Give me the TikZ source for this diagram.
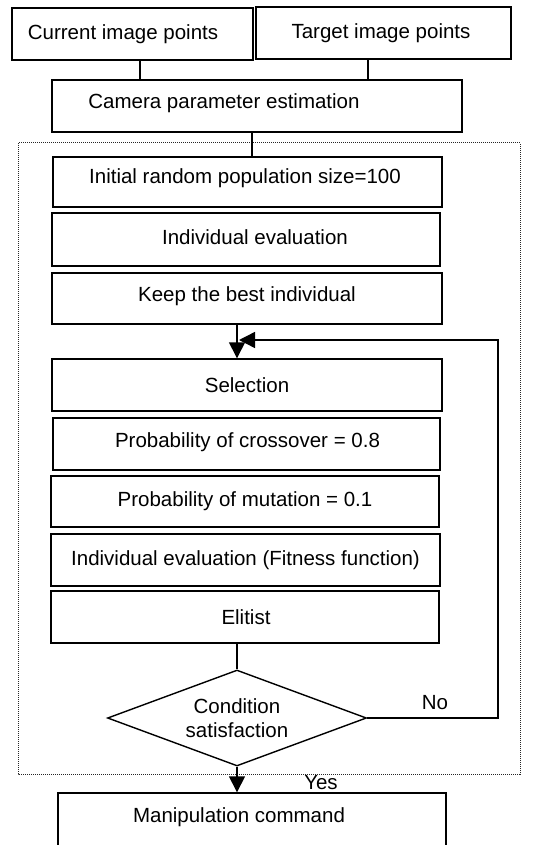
\documentclass[tikz,border=0pt]{standalone}
\usepackage{fontspec}
\setmainfont{Liberation Sans}
\usetikzlibrary{shapes.geometric,arrows.meta}
\begin{document}
\begin{tikzpicture}[x=1pt,y=-1pt,font=\fontsize{20.5}{24}\selectfont,
  box/.style={draw,line width=1.4pt,rectangle,inner sep=0pt},
  conn/.style={line width=1.4pt},
  arr/.style={conn,-{Triangle[length=16pt,width=16pt]}},
  frame/.style={dash pattern=on 1pt off 1pt,line width=1pt,black!85}]
\useasboundingbox (0,0) rectangle (541,845);
\clip (0,0) rectangle (541,845);
% dotted frame
\draw[frame] (18,143) rectangle (520,774);
% boxes
\node[box,minimum width=241pt,minimum height=52pt,label={[xshift=-9.5pt]center:Current image points}] (cur) at (132.5,34) {};
\node[box,minimum width=255pt,minimum height=52pt,label={[xshift=-2.5pt]center:Target image points}] (tgt) at (383.5,33) {};
\node[box,minimum width=410pt,minimum height=52pt,label={[xshift=-33pt,yshift=3pt]center:Camera parameter estimation}] (cam) at (257,106) {};
\node[box,minimum width=389pt,minimum height=50pt,label={[xshift=-2.5pt,yshift=4pt]center:Initial random population size=100}] (init) at (247.5,182) {};
\node[box,minimum width=388pt,minimum height=53pt,label={[xshift=9pt,yshift=2pt]center:Individual evaluation}] (ieval) at (246,239.5) {};
\node[box,minimum width=390pt,minimum height=51pt,label={[xshift=0pt,yshift=2pt]center:Keep the best individual}] (keep) at (247,298.5) {};
\node[box,minimum width=390pt,minimum height=52pt,label={[xshift=0pt]center:Selection}] (sel) at (247,385) {};
\node[box,minimum width=387pt,minimum height=52pt,label={[xshift=1pt,yshift=2pt]center:Probability of crossover = 0.8}] (cross) at (246.5,444) {};
\node[box,minimum width=388pt,minimum height=51pt,label={[xshift=0pt]center:Probability of mutation = 0.1}] (mut) at (245,501.5) {};
\node[box,minimum width=389pt,minimum height=52pt,label={[xshift=0pt]center:Individual evaluation (Fitness function)}] (fit) at (245.5,560) {};
\node[box,minimum width=388pt,minimum height=52pt,label={[xshift=1pt]center:Elitist}] (elit) at (245,617) {};
\node[draw,line width=1.4pt,diamond,aspect=2.7,minimum width=259pt,minimum height=96pt,inner sep=0pt,align=center] (dia) at (237,718) {Condition\\satisfaction};
\node[box,minimum width=388pt,minimum height=60pt,label={[xshift=-13pt,yshift=6pt]center:Manipulation command}] (manip) at (252,823) {};
% labels
\node (no) at (435,703) {No};
\node (yes) at (321,783) {Yes};
% connectors
\draw[conn] ([xshift=7.5pt]cur.south) -- ([xshift=7.5pt]cur.south |- cam.north);
\draw[conn] ([xshift=-15.5pt]tgt.south) -- ([xshift=-15.5pt]tgt.south |- cam.north);
\draw[conn] ([xshift=-5pt]cam.south) -- ([xshift=-5pt]cam.south |- init.north);
\draw[arr] ([xshift=-10pt]keep.south) -- ([xshift=-10pt]keep.south |- sel.north);
\draw[conn] ([xshift=-8pt]elit.south) -- (dia.north);
\coordinate (ur) at (498,340);
\coordinate (lh) at (239,340);
\draw[arr] (dia.east) -- (dia.east -| ur) -- (ur) -- (lh);
\draw[arr] (dia.south) -- (dia.south |- manip.north);
\end{tikzpicture}
\end{document}
